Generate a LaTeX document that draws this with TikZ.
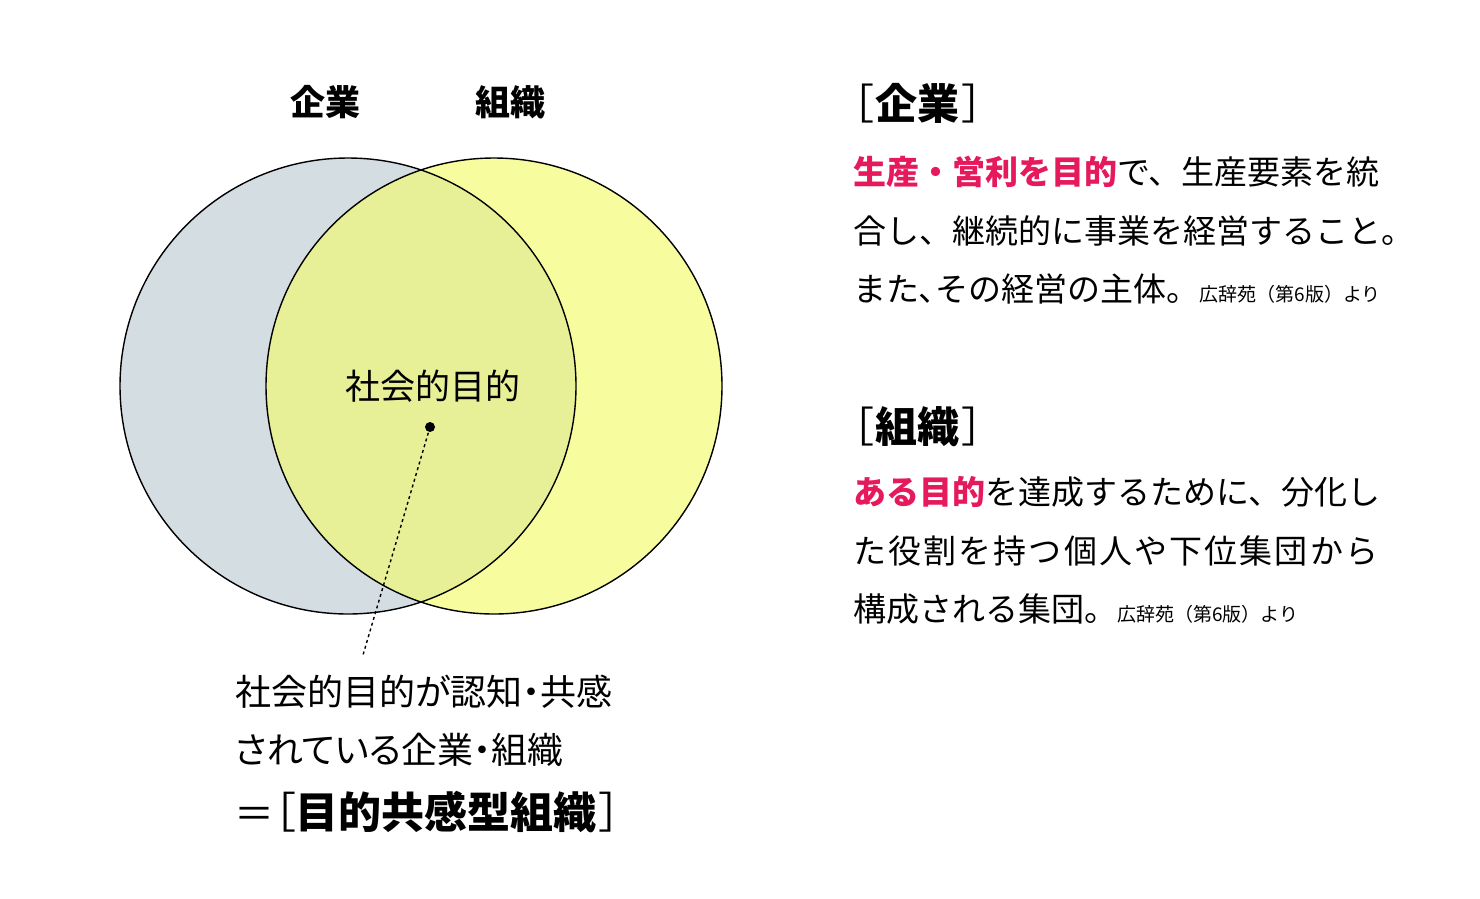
\documentclass[tikz,border=0pt]{standalone}
\usepackage{fontspec}
\setmainfont{Noto Sans CJK JP}
\definecolor{greyfill}{HTML}{D4DDE1}
\definecolor{yellowfill}{HTML}{F7FC9E}
\definecolor{overlapfill}{HTML}{E7F097}
\definecolor{accent}{HTML}{E5195B}
\newcommand{\fs}[1]{\fontsize{#1}{#1}\selectfont}
\newcommand{\pal}{\addfontfeature{RawFeature=+palt}}
\newcommand{\src}{{\fs{19}広辞苑（第6版）より}}
\begin{document}
\begin{tikzpicture}[x=1pt,y=-1pt,
  txt/.style={anchor=west,inner sep=0pt,font=\fs{33}},
  btxt/.style={anchor=west,inner sep=0pt,font=\fs{36}\pal},
  head/.style={anchor=center,inner sep=0pt,font=\fs{35}\bfseries},
  bhead/.style={anchor=west,inner sep=0pt,font=\fs{42}},
  ring/.style={draw=black,line width=1.4pt}]
\useasboundingbox (0,0) rectangle (1480,898);
% circles
\fill[greyfill] (348,386) circle (228);
\fill[yellowfill] (494,386) circle (228);
\begin{scope}
  \clip (348,386) circle (228);
  \fill[overlapfill] (494,386) circle (228);
\end{scope}
\draw[ring] (348,386) circle (228);
\draw[ring] (494,386) circle (228);
% labels
\node[head] (lk) at (325,102) {企業};
\node[head] (ls) at (510,102) {組織};
\node[anchor=center,inner sep=0pt,font=\fs{35}] (goal) at (433,386) {社会的目的};
\fill (430,427) circle (5);
\coordinate (dot) at (430,427);
\coordinate (lend) at (363,655);
\draw[line width=1.4pt,dash pattern=on 3pt off 3pt] (dot) -- (lend);
% bottom text
\node[btxt] (b1) at (235,692) {社会的目的が認知・共感};
\node[btxt] (b2) at (235,750) {されている企業・組織};
\node[anchor=west,inner sep=0pt] (b3) at (234,812) {{\fs{40}＝}{\fs{43}\pal［}{\fs{43}\bfseries 目的共感型組織}\hspace{3pt}{\fs{43}\pal ］}};
% right column: 企業
\node[bhead] (h1) at (852,103) {{\pal［}\hspace{2pt}{\bfseries 企業}\hspace{3pt}{\pal ］}};
\node[txt] (r1) at (853,172) {{\color{accent}\bfseries 生産・営利を目的}で、生産要素を統};
\node[txt] (r2) at (853,231) {合し、継続的に事業を経営すること。};
\node[txt] (r3) at (853,289) {また{\pal 、}その経営の主体。\src};
% right column: 組織
\node[bhead] (h2) at (852,427) {{\pal［}\hspace{2pt}{\bfseries 組織}\hspace{3pt}{\pal ］}};
\node[txt] (s1) at (853,492) {{\color{accent}\bfseries ある目的}を達成するために、分化し};
\node[txt] (s2) at (853,551) {\addfontfeature{LetterSpace=6.5}た役割を持つ個人や下位集団から};
\node[txt] (s3) at (853,609) {構成される集団。\src};
\end{tikzpicture}
\end{document}
